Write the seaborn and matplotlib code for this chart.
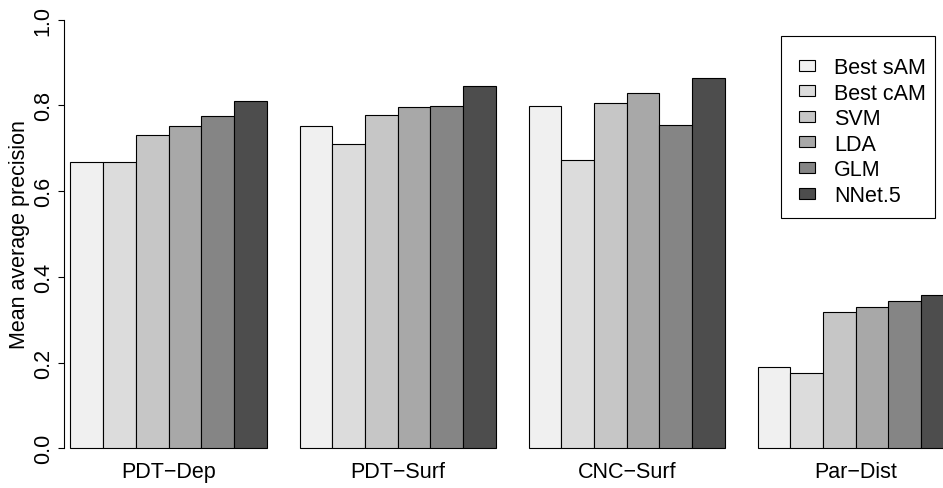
import numpy as np
import pandas as pd
import matplotlib
matplotlib.use("Agg")
import matplotlib.pyplot as plt
from matplotlib.patches import Rectangle
import seaborn as sns

# Mean average precision per dataset and method
datasets = ["PDT\u2212Dep", "PDT\u2212Surf", "CNC\u2212Surf", "Par\u2212Dist"]
methods = ["Best sAM", "Best cAM", "SVM", "LDA", "GLM", "NNet.5"]
best_sam = [0.667, 0.751, 0.798, 0.190]
best_cam = [0.668, 0.709, 0.673, 0.175]
svm = [0.731, 0.777, 0.806, 0.318]
lda = [0.753, 0.796, 0.828, 0.329]
glm = [0.775, 0.798, 0.754, 0.343]
nnet5 = [0.810, 0.845, 0.864, 0.358]
y_ticks = [0.0, 0.2, 0.4, 0.6, 0.8, 1.0]
y_tick_labels = ["0.0", "0.2", "0.4", "0.6", "0.8", "1.0"]

grays = ["#F0F0F0", "#DCDCDC", "#C6C6C6", "#A8A8A8", "#858585", "#4D4D4D"]

series = [best_sam, best_cam, svm, lda, glm, nnet5]
df = pd.DataFrame(
    [(d, m, v[i]) for m, v in zip(methods, series) for i, d in enumerate(datasets)],
    columns=["dataset", "method", "map"],
)

sns.set_style("white")
plt.rcParams["font.family"] = ["Liberation Sans", "DejaVu Sans"]
FS = 15.5

W, H = 943, 489
fig = plt.figure(figsize=(W / 100, H / 100), dpi=100)
y0_px, px_per_unit = 449.3, 428.6
top_px = y0_px - 1.04 * px_per_unit
ax = fig.add_axes([64 / W, 1 - y0_px / H, (W - 64) / W, (y0_px - top_px) / H])

sns.barplot(
    data=df, x="dataset", y="map", hue="method",
    order=datasets, hue_order=methods, palette=grays,
    width=6 / 7, gap=0, dodge=True, saturation=1, errorbar=None,
    edgecolor="black", linewidth=0.8, legend=False, ax=ax,
)
for p in ax.patches:
    p.set_clip_on(False)

unit = 7 * 32.72
left_edge = -3 / 7
ax.set_xlim(left_edge - (70.5 - 64) / unit, left_edge + (W - 70.5) / unit)
ax.set_ylim(0, 1.04)

for s in ["top", "right", "bottom"]:
    ax.spines[s].set_visible(False)
ax.spines["left"].set_bounds(0, 1)
ax.spines["left"].set_color("black")
ax.spines["left"].set_linewidth(0.8)

ax.set_yticks(y_ticks)
ax.set_yticklabels(y_tick_labels, rotation=90, va="center", fontsize=FS)
ax.tick_params(axis="y", direction="out", length=4.3, width=0.8, color="black",
               pad=3, left=True, labelcolor="black")
ax.tick_params(axis="x", length=0, pad=9, labelsize=FS, labelcolor="black")
ax.set_xlabel("")
ax.set_ylabel("Mean average precision", fontsize=FS, color="black")
ax.yaxis.set_label_coords(-0.039, 0.5 / 1.04)
ax.grid(False)

# legend box drawn in figure pixels
def fx(px):
    return px / W

def fy(py):
    return 1 - py / H

fig.patches.append(Rectangle((fx(781), fy(219)), fx(935) - fx(781), fy(37) - fy(219),
                             transform=fig.transFigure, facecolor="white",
                             edgecolor="black", linewidth=0.8, zorder=5))
row0, step = 66.0, 25.6
for k, (lab, col) in enumerate(zip(methods, grays)):
    cy = row0 + k * step
    fig.patches.append(Rectangle((fx(799), fy(cy + 5.5)), fx(815) - fx(799), 11 / H,
                                 transform=fig.transFigure, facecolor=col,
                                 edgecolor="black", linewidth=0.8, zorder=6))
    fig.text(fx(834), fy(cy), lab, fontsize=FS, va="center_baseline", ha="left",
             color="black", zorder=7)

fig.savefig("out.png", dpi=100, facecolor="white")
